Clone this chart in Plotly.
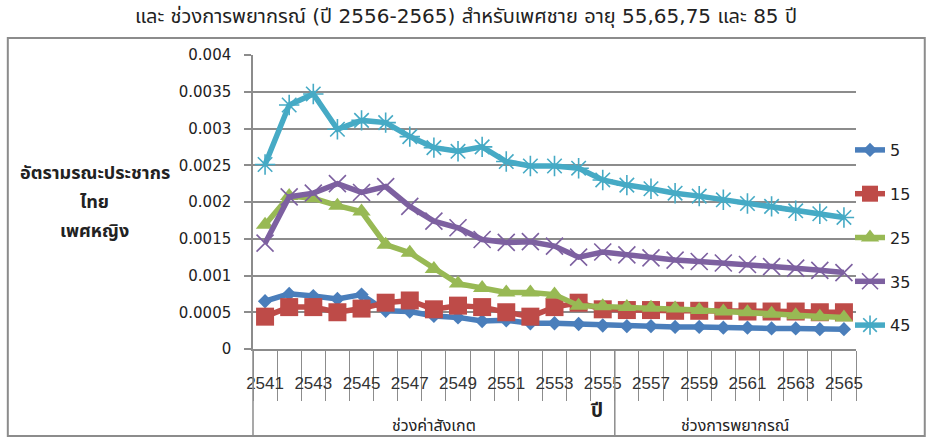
import plotly.graph_objects as go

# Years (Buddhist era) on the category axis
years = [2541, 2542, 2543, 2544, 2545, 2546, 2547, 2548, 2549, 2550, 2551, 2552, 2553,
         2554, 2555, 2556, 2557, 2558, 2559, 2560, 2561, 2562, 2563, 2564, 2565]
year_labels = [str(y) for y in years[::2]]

# Mortality rates by age
age5 = [0.00065, 0.00075, 0.00072, 0.00068, 0.00074, 0.00052, 0.00051, 0.00045, 0.00043,
        0.00038, 0.00039, 0.00035, 0.00035, 0.00034, 0.00032, 0.00031, 0.00031, 0.00030,
        0.00030, 0.00029, 0.00029, 0.00028, 0.00028, 0.00027, 0.00027]
age15 = [0.00044, 0.00057, 0.00057, 0.00050, 0.00055, 0.00063, 0.00066, 0.00054, 0.00059,
         0.00057, 0.00050, 0.00044, 0.00057, 0.00063, 0.00054, 0.00053, 0.00053, 0.00052,
         0.00052, 0.00052, 0.00051, 0.00051, 0.00051, 0.00050, 0.00050]
age25 = [0.00169, 0.00208, 0.00205, 0.00195, 0.00187, 0.00142, 0.00131, 0.00109, 0.00089,
         0.00083, 0.00077, 0.00077, 0.00074, 0.00059, 0.00058, 0.00057, 0.00056, 0.00055,
         0.00053, 0.00051, 0.00050, 0.00048, 0.00046, 0.00044, 0.00043]
age35 = [0.00144, 0.00207, 0.00212, 0.00225, 0.00213, 0.00221, 0.00194, 0.00174, 0.00165,
         0.00149, 0.00145, 0.00146, 0.00140, 0.00125, 0.00132, 0.00128, 0.00124, 0.00121,
         0.00119, 0.00117, 0.00115, 0.00112, 0.00110, 0.00107, 0.00104]
age45 = [0.00251, 0.00332, 0.00347, 0.00299, 0.00311, 0.00308, 0.00289, 0.00274, 0.00269,
         0.00275, 0.00255, 0.00249, 0.00249, 0.00246, 0.00230, 0.00223, 0.00218, 0.00212,
         0.00208, 0.00203, 0.00198, 0.00194, 0.00188, 0.00184, 0.00179]

y_ticks = [0, 0.0005, 0.001, 0.0015, 0.002, 0.0025, 0.003, 0.0035, 0.004]
y_tick_text = ["0", "0.0005", "0.001", "0.0015", "0.002", "0.0025", "0.003", "0.0035", "0.004"]

title_text = "และ ช่วงการพยากรณ์ (ปี 2556-2565) สำหรับเพศชาย อายุ 55,65,75 และ 85 ปี"
y_title_lines = ["อัตรามรณะประชากร", "ไทย", "เพศหญิง"]
x_title = "ปี"
observed_label = "ช่วงค่าสังเกต"
forecast_label = "ช่วงการพยากรณ์"
split_year = 2555.5  # boundary between observed and forecast periods

W, H = 928, 439
ML, MR, MT, MB = 253, 70, 55, 90
PW, PH = W - ML - MR, H - MT - MB

FONT = "DejaVu Sans, Noto Sans Thai, sans-serif"
NARROW = "Liberation Sans Narrow, Liberation Sans, sans-serif"
GRID = "#8c8c8c"
TEXT = "#222"


def px_x(px):
    return (px - ML) / PW


def px_y(py):
    return (H - MB - py) / PH


series = [
    ("5", age5, "#4a7ebb", dict(symbol="diamond", size=11)),
    ("15", age15, "#be4b48", dict(symbol="square", size=18)),
    ("25", age25, "#98b954", dict(symbol="triangle-up", size=16)),
    ("35", age35, "#7d60a0", dict(symbol="x-thin-open", size=17, line=dict(width=1.6, color="#7d60a0"))),
    ("45", age45, "#46aac5", dict(symbol="asterisk-open", size=17, line=dict(width=1.6, color="#46aac5"))),
]

fig = go.Figure()
for name, vals, color, mk in series:
    marker = dict(color=color, **mk)
    fig.add_trace(go.Scatter(
        x=years, y=vals, name=name, mode="lines+markers",
        line=dict(color=color, width=5.5),
        marker=marker, legendgroup=name,
    ))

x_range = [years[0] - 0.5, years[-1] + 0.5]
split_paper = (split_year - x_range[0]) / (x_range[1] - x_range[0])

fig.update_layout(
    width=W, height=H,
    margin=dict(l=ML, r=MR, t=MT, b=MB),
    paper_bgcolor="white", plot_bgcolor="white",
    font=dict(family=FONT, color=TEXT, size=15),
    title=dict(text=title_text, x=466 / W, xref="container", xanchor="center",
               y=1 - 16 / H, yref="container", yanchor="middle",
               font=dict(size=20, color=TEXT)),
    xaxis=dict(
        range=x_range, tickmode="array",
        tickvals=years[::2], ticktext=year_labels,
        ticks="outside", ticklen=18, tickcolor="rgba(0,0,0,0)",
        showgrid=False, zeroline=False,
        showline=True, linecolor=GRID, linewidth=1.5,
        tickfont=dict(size=17, family=NARROW, color="#333"),
        minor=dict(tickmode="linear", tick0=x_range[0], dtick=1,
                   ticks="outside", ticklen=50, tickwidth=1.2, tickcolor=GRID,
                   showgrid=False),
    ),
    yaxis=dict(
        range=[0, 0.004], tickmode="array", tickvals=y_ticks, ticktext=y_tick_text,
        ticks="outside", ticklen=7, tickcolor=GRID, tickwidth=1.5,
        showgrid=True, gridcolor=GRID, gridwidth=1.5,
        zeroline=False, showline=True, linecolor=GRID, linewidth=1.5,
        tickfont=dict(size=15), ticklabelstandoff=10,
    ),
    legend=dict(x=px_x(852), xanchor="left", y=px_y(133), yanchor="top",
                bgcolor="rgba(0,0,0,0)", font=dict(size=16, color=TEXT),
                tracegroupgap=20),
    showlegend=True,
)

shapes = [
    # outer chart frame
    dict(type="rect", xref="paper", yref="paper",
         x0=px_x(7), x1=px_x(927), y0=px_y(436), y1=px_y(38),
         line=dict(color=GRID, width=2), fillcolor="rgba(0,0,0,0)", layer="below"),
    # value axis continued down through the year labels
    dict(type="line", xref="paper", yref="paper", x0=0, x1=0, y0=0, y1=px_y(436),
         line=dict(color=GRID, width=1.5)),
    # divider between observed and forecast periods
    dict(type="line", xref="paper", yref="paper", x0=split_paper, x1=split_paper,
         y0=0, y1=px_y(436), line=dict(color=GRID, width=1.5)),
]

annotations = []
for text, ypx in zip(y_title_lines, [172, 201, 230]):
    annotations.append(dict(
        text="<b>" + text + "</b>", xref="paper", yref="paper",
        x=px_x(94), y=px_y(ypx), xanchor="center", yanchor="middle", showarrow=False,
        font=dict(size=18, color=TEXT)))
annotations += [
    dict(text="<b>" + x_title + "</b>", xref="paper", yref="paper",
         x=px_x(598), y=px_y(410), xanchor="center", yanchor="middle", showarrow=False,
         font=dict(size=19, color=TEXT)),
    dict(text=observed_label, xref="paper", yref="paper",
         x=split_paper / 2, y=px_y(425), xanchor="center", yanchor="middle", showarrow=False,
         font=dict(size=16, color=TEXT)),
    dict(text=forecast_label, xref="paper", yref="paper",
         x=(split_paper + 1) / 2, y=px_y(425), xanchor="center", yanchor="middle", showarrow=False,
         font=dict(size=16, color=TEXT)),
]

fig.update_layout(shapes=shapes, annotations=annotations)
fig.write_html("out.html")
